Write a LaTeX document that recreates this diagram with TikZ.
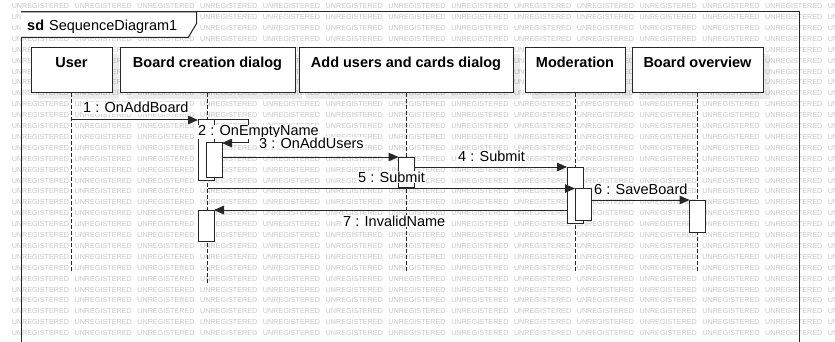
\documentclass[tikz,border=0pt]{standalone}
\usepackage{fontspec}
\setmainfont{Liberation Sans}
\usetikzlibrary{arrows.meta,shadows}

\begin{document}
\begin{tikzpicture}[x=1pt,y=-1pt,
  ink/.style={draw=black!85, line width=1pt},
  wm/.style={anchor=west, inner sep=0pt, text=black!22,
    font=\fontsize{7.2}{8}\selectfont},
  head/.style={ink, fill=white, inner sep=0pt, outer sep=0pt,
    drop shadow={shadow xshift=7pt, shadow yshift=-6pt, fill=black, opacity=0.08}},
  title/.style={anchor=base, inner sep=0pt, font=\fontsize{14.5}{17}\selectfont\bfseries},
  life/.style={draw=black!85, line width=1pt, dash pattern=on 4pt off 2pt},
  act/.style={ink, fill=white, minimum width=16pt, inner sep=0pt, outer sep=0pt, anchor=north west},
  msg/.style={ink, -{Triangle[length=10pt,width=8.5pt]}},
  lbl/.style={anchor=base west, fill=white, inner xsep=1pt, inner ysep=0.5pt,
    font=\fontsize{14.5}{17}\selectfont},
]
\useasboundingbox (0,0) rectangle (835,342);
\clip (0,0) rectangle (835,342);
\fill[white] (0,0) rectangle (835,342);

% tiled background stamp
\foreach \r in {0,...,30}{
  \foreach \c in {0,...,13}{
    \node[wm] (wm-\r-\c) at ({11.6+62.78*\c},{6.2+10.9*\r}) {UNREGISTERED};
  }
}

% frame and its name tab
\draw[ink] (21,350) -- (21,12) -- (799,12) -- (799,350);
\draw[ink, fill=white] (21,12) -- (196.7,12) -- (196.7,23.3) -- (188.3,37.3) -- (21,37.3);
\node[anchor=base west, inner sep=0pt, font=\fontsize{14.5}{17}\selectfont] (frameName)
  at (27,31) {\textbf{sd}\hspace{5pt}SequenceDiagram1};

% lifeline heads
\node[head, minimum width=81pt,  minimum height=45pt] (user) at (71.5,70.5) {};
\node[head, minimum width=175pt, minimum height=45pt] (bc)   at (207.5,70.5) {};
\node[head, minimum width=214pt, minimum height=45pt] (au)   at (406,70.5) {};
\node[head, minimum width=100pt, minimum height=45pt] (mo)   at (575,70.5) {};
\node[head, minimum width=131pt, minimum height=45pt] (bo)   at (697.5,70.5) {};

\node[title] (userT) at (71.5,68)  {User};
\node[title] (bcT)   at (207.5,68) {Board creation dialog};
\node[title] (auT)   at (406,68)   {Add users and cards dialog};
\node[title] (moT)   at (575,68)   {Moderation};
\node[title] (boT)   at (697.5,68) {Board overview};

% lifelines
\draw[life] (user.south) -- (user.south |- 0,273);
\draw[life] (bc.south)   -- (bc.south |- 0,285);
\draw[life] (au.south)   -- (au.south |- 0,273);
\draw[life] (mo.south)   -- (mo.south |- 0,273);
\draw[life] (bo.south)   -- (bo.south |- 0,273);

% activations
\node[act, minimum height=60pt]   (bcA) at (198,120) {};
\node[act, minimum height=34pt]   (bcB) at (206,143) {};
\node[act, minimum height=30pt]   (auA) at (398.5,157) {};
\node[act, minimum height=56pt]   (moA) at (567,167) {};
\node[act, minimum height=31.5pt] (moB) at (575,188.5) {};
\node[act, minimum height=32pt]   (boA) at (689.5,200) {};
\node[act, minimum height=31pt]   (bcC) at (198,210) {};

% messages
\draw[msg] (user.south |- bcA.north west) -- (bcA.north west);
\draw[msg] (bcA.north east) -- ++(34,0) |- (bcB.north east);
\draw[msg] (bcB.north east |- auA.north west) -- (auA.north west);
\draw[msg] (auA.north east |- moA.north west) -- (moA.north west);
\draw[msg] (bc.south |- moB.north west) -- (moB.north west);
\draw[msg] (moB.north east |- boA.north west) -- (boA.north west);
\draw[msg] (moA.north west |- bcC.north east) -- (bcC.north east);

% message labels
\node[lbl] (m1) at (82,113)    {1 : OnAddBoard};
\node[lbl] (m2) at (197,135.5) {2 : OnEmptyName};
\node[lbl] (m3) at (258,148)   {3 : OnAddUsers};
\node[lbl] (m4) at (457,161)   {4 : Submit};
\node[lbl] (m5) at (357,182)   {5 : Submit};
\node[lbl] (m6) at (593,194)   {6 : SaveBoard};
\node[lbl] (m7) at (342,226)   {7 : InvalidName};
\end{tikzpicture}
\end{document}
